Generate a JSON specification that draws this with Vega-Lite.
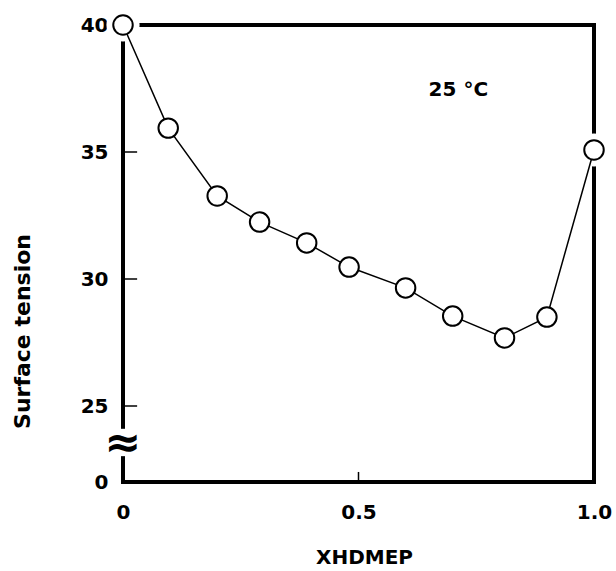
{
  "$schema": "https://vega.github.io/schema/vega-lite/v6.json",
  "autosize": "none",
  "width": 471,
  "height": 457,
  "padding": {"left": 123, "top": 25, "right": 22, "bottom": 89},
  "background": "white",
  "config": {
    "view": {"stroke": null},
    "font": "DejaVu Sans",
    "axis": {
      "domain": false,
      "grid": false,
      "ticks": false,
      "labelFont": "DejaVu Sans",
      "labelFontWeight": "bold",
      "labelFontSize": 20,
      "labelColor": "black",
      "titleFont": "DejaVu Sans",
      "titleFontWeight": "bold",
      "titleColor": "black"
    }
  },
  "datasets": {
    "points": [
      {"x": 0.0, "st": 40.0},
      {"x": 0.096, "st": 35.94},
      {"x": 0.2, "st": 33.27},
      {"x": 0.29, "st": 32.24},
      {"x": 0.39, "st": 31.42},
      {"x": 0.48, "st": 30.47},
      {"x": 0.6, "st": 29.65},
      {"x": 0.7, "st": 28.54},
      {"x": 0.81, "st": 27.68},
      {"x": 0.9, "st": 28.5},
      {"x": 1.0, "st": 35.08}
    ],
    "frame": [
      {"x": 0, "x2": 0, "st": 0, "st2": 40},
      {"x": 0, "x2": 1, "st": 0, "st2": 0},
      {"x": 0, "x2": 1, "st": 40, "st2": 40},
      {"x": 1, "x2": 1, "st": 0, "st2": 40}
    ],
    "ticks": [
      {"x": 0, "x2": 0.03, "st": 25, "st2": 25},
      {"x": 0, "x2": 0.03, "st": 30, "st2": 30},
      {"x": 0, "x2": 0.03, "st": 35, "st2": 35},
      {"x": 0.5, "x2": 0.5, "st": 0, "st2": 3.3}
    ],
    "gap": [
      {"x": 0, "x2": 0, "st": 8.5, "st2": 17.5}
    ],
    "labels": [
      {"x": 0, "st": 12.5, "label": "≈", "kind": "break"},
      {"x": 0.712, "st": 37.44, "label": "25 °C", "kind": "note"}
    ]
  },
  "layer": [
    {
      "data": {"name": "frame"},
      "mark": {"type": "rule", "color": "black", "strokeWidth": 4, "strokeCap": "square"},
      "encoding": {
        "x": {
          "field": "x",
          "type": "quantitative",
          "scale": {"domain": [0, 1], "nice": false, "zero": false},
          "axis": {
            "values": [0, 0.5, 1],
            "labelExpr": "datum.value == 0 ? '0' : format(datum.value, '.1f')",
            "labelPadding": 20,
            "labelFlush": false,
            "title": "XHDMEP",
            "titleFontSize": 20,
            "titleX": 241,
            "titleY": 75,
            "titleAlign": "center",
            "titleBaseline": "middle"
          }
        },
        "x2": {"field": "x2"},
        "y": {
          "field": "st",
          "type": "quantitative",
          "scale": {"domain": [0, 25, 40], "range": [457, 381, 0], "nice": false, "zero": false},
          "axis": {
            "values": [0, 25, 30, 35, 40],
            "labelPadding": 15,
            "labelFlush": false,
            "labelBaseline": "middle",
            "title": "Surface  tension",
            "titleFontSize": 22,
            "titleAngle": -90,
            "titleX": -101,
            "titleY": 306,
            "titleAlign": "center",
            "titleBaseline": "middle"
          }
        },
        "y2": {"field": "st2"}
      }
    },
    {
      "data": {"name": "ticks"},
      "mark": {"type": "rule", "color": "black", "strokeWidth": 1.5},
      "encoding": {
        "x": {"field": "x", "type": "quantitative"},
        "x2": {"field": "x2"},
        "y": {"field": "st", "type": "quantitative"},
        "y2": {"field": "st2"}
      }
    },
    {
      "data": {"name": "points"},
      "mark": {"type": "point", "shape": "circle", "filled": true, "color": "white", "size": 1100, "opacity": 1},
      "encoding": {
        "x": {"field": "x", "type": "quantitative"},
        "y": {"field": "st", "type": "quantitative"}
      }
    },
    {
      "data": {"name": "gap"},
      "mark": {"type": "rule", "color": "white", "strokeWidth": 9},
      "encoding": {
        "x": {"field": "x", "type": "quantitative"},
        "y": {"field": "st", "type": "quantitative"},
        "y2": {"field": "st2"}
      }
    },
    {
      "data": {"name": "labels"},
      "transform": [{"filter": "datum.kind == 'break'"}],
      "mark": {"type": "text", "font": "DejaVu Sans", "fontWeight": "bold", "fontSize": 44, "align": "center", "baseline": "middle", "color": "black"},
      "encoding": {
        "x": {"field": "x", "type": "quantitative"},
        "y": {"field": "st", "type": "quantitative"},
        "text": {"field": "label"}
      }
    },
    {
      "data": {"name": "points"},
      "mark": {"type": "line", "color": "black", "strokeWidth": 1.5},
      "encoding": {
        "x": {"field": "x", "type": "quantitative"},
        "y": {"field": "st", "type": "quantitative"}
      }
    },
    {
      "data": {"name": "points"},
      "mark": {"type": "point", "shape": "circle", "filled": true, "fill": "white", "stroke": "black", "strokeWidth": 2, "size": 380, "opacity": 1},
      "encoding": {
        "x": {"field": "x", "type": "quantitative"},
        "y": {"field": "st", "type": "quantitative"}
      }
    },
    {
      "data": {"name": "labels"},
      "transform": [{"filter": "datum.kind == 'note'"}],
      "mark": {"type": "text", "font": "DejaVu Sans", "fontWeight": "bold", "fontSize": 20, "align": "center", "baseline": "middle", "color": "black"},
      "encoding": {
        "x": {"field": "x", "type": "quantitative"},
        "y": {"field": "st", "type": "quantitative"},
        "text": {"field": "label"}
      }
    }
  ]
}
